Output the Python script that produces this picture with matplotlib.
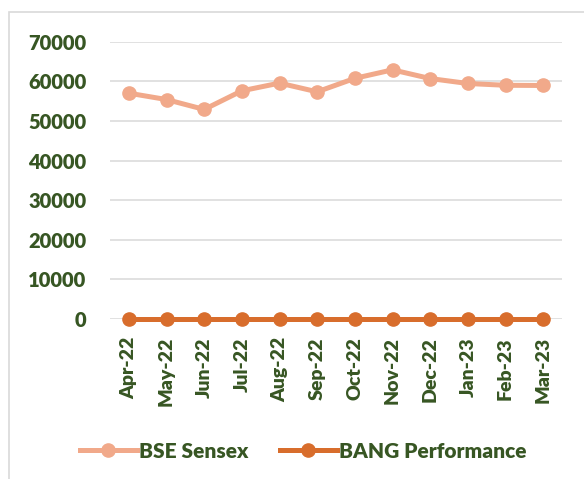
import matplotlib
matplotlib.use("Agg")
import matplotlib.pyplot as plt
from matplotlib.patches import Rectangle

months = ['Apr-22', 'May-22', 'Jun-22', 'Jul-22', 'Aug-22', 'Sep-22',
          'Oct-22', 'Nov-22', 'Dec-22', 'Jan-23', 'Feb-23', 'Mar-23']
sensex = [57000, 55400, 52900, 57600, 59550, 57350,
          60750, 62900, 60700, 59450, 59000, 58950]
bang = [0, 0, 0, 0, 0, 0, 0, 0, 0, 0, 0, 0]
yticks = [0, 10000, 20000, 30000, 40000, 50000, 60000, 70000]

text_green = '#375623'
sensex_col = '#F1A98A'
bang_col = '#D86D2C'

plt.rcParams['font.family'] = ['Lato', 'DejaVu Sans']
plt.rcParams['font.weight'] = 'heavy'

fig = plt.figure(figsize=(5.84, 4.79), dpi=100)
# light grey chart border, open at the right and bottom edges
fig.patches.append(Rectangle((8.5 / 584, -0.1), 1.1, 1 - 12 / 479 + 0.1,
                             transform=fig.transFigure, fill=False,
                             edgecolor='#D9D9D9', linewidth=1.2))

ax = fig.add_axes([110 / 584, 1 - 319 / 479, 452 / 584, (319 - 41.7) / 479])
x = list(range(len(months)))
ax.plot(x, sensex, color=sensex_col, linewidth=3.6, marker='o',
        markersize=9.5, label='BSE Sensex', zorder=3)
ax.plot(x, bang, color=bang_col, linewidth=3.6, marker='o',
        markersize=9.5, label='BANG Performance', zorder=4, clip_on=False)

ax.set_xlim(-0.5, len(months) - 0.5)
ax.set_ylim(0, 70000)
ax.set_yticks(yticks)
ax.set_yticklabels([str(v) for v in yticks])
ax.set_xticks(x)
ax.set_xticklabels(months, rotation=90)
ax.tick_params(axis='both', length=0, labelcolor=text_green)
ax.tick_params(axis='y', pad=16.8, labelsize=14.5)
ax.tick_params(axis='x', pad=13, labelsize=14)
ax.grid(axis='y', color='#D9D9D9', linewidth=1.1)
ax.set_axisbelow(True)
for s in ax.spines.values():
    s.set_visible(False)

leg = fig.legend(loc='center', bbox_to_anchor=(303 / 584, 1 - 451 / 479), ncol=2,
                 frameon=False, fontsize=15, handlelength=2.75,
                 handletextpad=0.1, columnspacing=1.5)
for t in leg.get_texts():
    t.set_color(text_green)

fig.savefig('out.png', dpi=100)
